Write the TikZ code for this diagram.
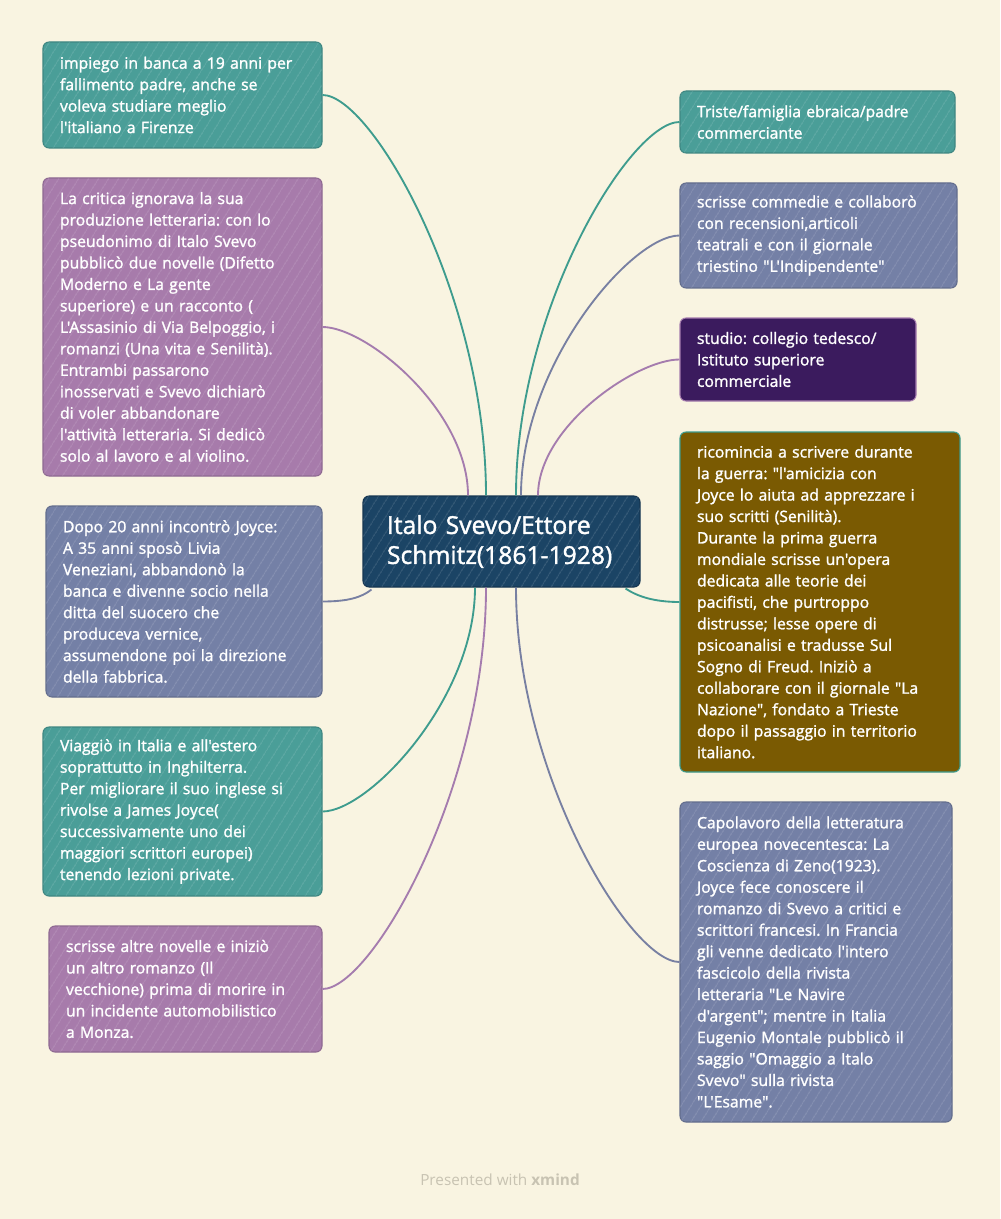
\documentclass[tikz,border=0pt]{standalone}
\usepackage{fontspec}
\setmainfont{Open Sans}
\newfontfamily\cardfont{Open Sans}[RawFeature={embolden=1.5}]
\usepackage{tikz}
\usetikzlibrary{calc,patterns.meta}
\frenchspacing

\definecolor{paper}{HTML}{F9F4E1}
\definecolor{tealbox}{HTML}{4A9E98}
\definecolor{plumbox}{HTML}{A77BAB}
\definecolor{slatebox}{HTML}{7480A6}
\definecolor{inkbox}{HTML}{3B1B5E}
\definecolor{mudbox}{HTML}{7A5A02}
\definecolor{navybox}{HTML}{1B4465}
\definecolor{tealline}{HTML}{3E9C8E}
\definecolor{plumline}{HTML}{A57CAE}
\definecolor{slateline}{HTML}{7880A2}
\definecolor{footgrey}{HTML}{C8C3B2}
\newcommand{\dq}{\textquotedbl}

\begin{document}
\begin{tikzpicture}[x=0.75pt,y=0.75pt,yscale=-1,xscale=1,
  card/.style={rectangle, rounded corners=4.5pt, text=white, align=left,
    inner xsep=12.75pt, inner ysep=0pt, line width=0.8pt,
    font=\cardfont\fontsize{11.8}{16.1}\selectfont},
  hub/.style={card, inner xsep=18pt, font=\cardfont\fontsize{18.5}{22.5}\selectfont},
  hatch/.style={postaction={fill opacity=0.2,
    pattern={Lines[angle=58,distance=6.5pt,line width=0.45pt]}, pattern color=white}},
  link/.style={line width=1.4pt}]
%set diagram page to 1000 x 1219
\fill[paper] (0,0) rectangle (1000,1219);

% Central Node
\node[hub, hatch, fill=navybox, draw=navybox!80!black, minimum width=207.75pt, minimum height=68.25pt, text width=171.75pt] (svevo) at (501.5,541.5) {Italo Svevo/Ettore\\Schmitz(1861-1928)};

% Left Nodes
\node[card, hatch, fill=tealbox, draw=tealbox!85!black, minimum height=79.5pt, text width=183.75pt] (job) at (182.5,95) {impiego in banca a 19 anni per\\fallimento padre, anche se\\voleva studiare meglio\\l'italiano a Firenze};
\node[card, hatch, fill=plumbox, draw=plumbox!85!black, minimum height=223.5pt, text width=183.75pt] (critic) at (182.5,327) {La critica ignorava la sua\\produzione letteraria: con lo\\pseudonimo di Italo Svevo\\pubblicò due novelle (Difetto\\Moderno e La gente\\superiore) e un racconto (\\L'Assasinio di Via Belpoggio, i\\romanzi (Una vita e Senilità).\\Entrambi passarono\\inosservati e Svevo dichiarò\\di voler abbandonare\\l'attività letteraria. Si dedicò\\solo al lavoro e al violino.};
\node[card, hatch, fill=slatebox, draw=slatebox!85!black, minimum height=143.25pt, text width=181.5pt] (marriage) at (184,601.5) {Dopo 20 anni incontrò Joyce:\\A 35 anni sposò Livia\\Veneziani, abbandonò la\\banca e divenne socio nella\\ditta del suocero che\\produceva vernice,\\assumendone poi la direzione\\della fabbrica.};
\node[card, hatch, fill=tealbox, draw=tealbox!85!black, minimum height=126.75pt, text width=183.75pt] (travel) at (182.5,811.5) {Viaggiò in Italia e all'estero\\soprattutto in Inghilterra.\\Per migliorare il suo inglese si\\rivolse a James Joyce(\\successivamente uno dei\\maggiori scrittori europei)\\tenendo lezioni private.};
\node[card, hatch, fill=plumbox, draw=plumbox!85!black, minimum height=94.5pt, text width=179.25pt] (death) at (185.5,989) {scrisse altre novelle e iniziò\\un altro romanzo (Il\\vecchione) prima di morire in\\un incidente automobilistico\\a Monza.};

% Right Nodes
\node[card, hatch, fill=tealbox, draw=tealbox!85!black, minimum height=46.5pt, text width=180.75pt] (family) at (817.5,122) {Triste/famiglia ebraica/padre\\commerciante};
\node[card, hatch, fill=slatebox, draw=slatebox!85!black, minimum height=78.75pt, text width=182.25pt] (theatre) at (818.5,235.5) {scrisse commedie e collaborò\\con recensioni,articoli\\teatrali e con il giornale\\triestino \dq L'Indipendente\dq};
\node[card, fill=inkbox, draw=plumline, minimum height=62.25pt, text width=151.5pt] (school) at (798,359.5) {studio: collegio tedesco/\\Istituto superiore\\commerciale};
\node[card, fill=mudbox, draw=tealline, minimum height=255pt, text width=184.5pt] (war) at (820,602) {ricomincia a scrivere durante\\la guerra: \dq l'amicizia con\\Joyce lo aiuta ad apprezzare i\\suo scritti (Senilità).\\Durante la prima guerra\\mondiale scrisse un'opera\\dedicata alle teorie dei\\pacifisti, che purtroppo\\distrusse; lesse opere di\\psicoanalisi e tradusse Sul\\Sogno di Freud. Iniziò a\\collaborare con il giornale \dq La\\Nazione\dq, fondato a Trieste\\dopo il passaggio in territorio\\italiano.};
\node[card, hatch, fill=slatebox, draw=slatebox!85!black, minimum height=240pt, text width=178.5pt] (zeno) at (816,962) {Capolavoro della letteratura\\europea novecentesca: La\\Coscienza di Zeno(1923).\\Joyce fece conoscere il\\romanzo di Svevo a critici e\\scrittori francesi. In Francia\\gli venne dedicato l'intero\\fascicolo della rivista\\letteraria \dq Le Navire\\d'argent\dq; mentre in Italia\\Eugenio Montale pubblicò il\\saggio \dq Omaggio a Italo\\Svevo\dq\ sulla rivista\\\dq L'Esame\dq.};

%Curve Lines
\draw[link, tealline] ($(svevo.north)+(-15.5,0)$) .. controls +(0,-201) and +(49,0) .. (job.east);
\draw[link, plumline] ($(svevo.north)+(-33.5,0)$) .. controls +(0,-85) and +(44,0) .. (critic.east);
\draw[link, slateline] ($(svevo.south west)+(9,2)$) .. controls +(-10,8) and +(25,0) .. (marriage.east);
\draw[link, tealline] ($(svevo.south)+(-26.5,0)$) .. controls +(0,112) and +(46,0) .. (travel.east);
\draw[link, plumline] ($(svevo.south)+(-15.5,0)$) .. controls +(0,201) and +(49,0) .. (death.east);
\draw[link, tealline] ($(svevo.north)+(14.5,0)$) .. controls +(0,-187) and +(-49,0) .. (family.west);
\draw[link, slateline] ($(svevo.north)+(19.5,0)$) .. controls +(0,-131) and +(-48,0) .. (theatre.west);
\draw[link, plumline] ($(svevo.north)+(36.5,0)$) .. controls +(0,-69) and +(-43,0) .. (school.west);
\draw[link, tealline] ($(svevo.south east)+(-15,1)$) .. controls +(12,8) and +(-25,0) .. (war.west);
\draw[link, slateline] ($(svevo.south)+(14.5,0)$) .. controls +(0,187) and +(-49,0) .. (zeno.west);

% Text Node
\node[text=footgrey, font=\fontsize{11.5}{13}\selectfont] (credit) at (500,1180) {Presented with {\bfseries xmind}};
\end{tikzpicture}
\end{document}
